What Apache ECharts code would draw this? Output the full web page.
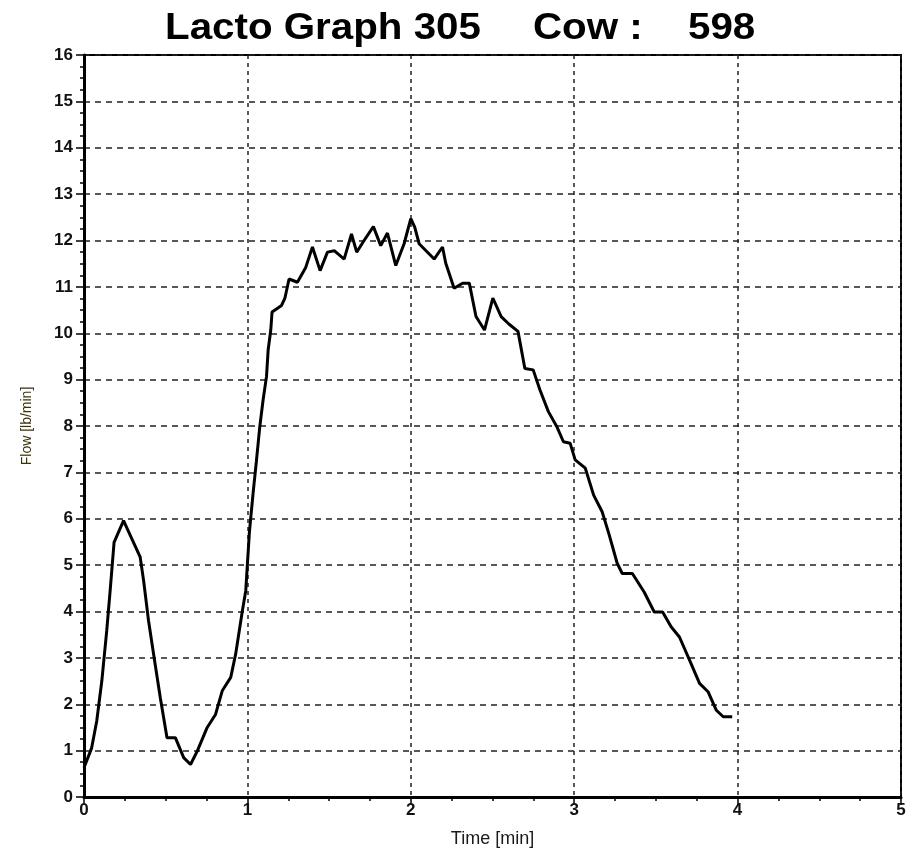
<!DOCTYPE html>
<html>
<head>
<meta charset="utf-8">
<script src="https://cdn.jsdelivr.net/npm/echarts@6/dist/echarts.min.js"></script>
<style>
html,body{margin:0;padding:0;background:#fff;}
#chart{width:911px;height:853px;}
</style>
</head>
<body>
<div id="chart"></div>
<script>
// Data
var timeMin = [0.000,0.047,0.078,0.109,0.139,0.160,0.184,0.242,0.344,0.365,0.395,0.426,0.467,0.508,0.559,0.610,0.652,0.693,0.754,0.805,0.846,0.898,0.928,0.969,0.990,
  1.012,1.035,1.055,1.076,1.096,1.117,1.127,1.143,1.151,1.209,1.229,1.255,1.306,1.357,1.398,1.445,1.490,1.531,1.592,1.637,1.669,1.714,1.771,1.816,1.857,1.908,1.959,
  2.000,2.024,2.051,2.143,2.194,2.214,2.265,2.317,2.358,2.399,2.451,2.502,2.553,2.600,2.656,2.698,2.749,2.790,2.842,2.893,2.934,2.975,
  3.006,3.068,3.119,3.171,3.212,3.263,3.294,3.356,3.428,3.490,3.541,3.593,3.644,3.706,3.767,3.819,3.870,3.912,3.967];
var flowLbMin = [0.63,1.06,1.64,2.50,3.58,4.45,5.49,5.96,5.17,4.66,3.80,3.08,2.14,1.28,1.28,0.85,0.70,0.99,1.50,1.78,2.29,2.58,3.08,4.01,4.45,
  5.70,6.56,7.24,7.99,8.56,9.07,9.64,10.07,10.46,10.60,10.75,11.17,11.10,11.42,11.86,11.35,11.75,11.78,11.60,12.14,11.75,12.00,12.30,11.89,12.16,11.46,11.93,
  12.47,12.29,11.93,11.60,11.86,11.51,10.97,11.08,11.08,10.36,10.07,10.76,10.36,10.20,10.04,9.24,9.21,8.78,8.31,7.99,7.66,7.63,
  7.27,7.09,6.51,6.15,5.68,5.04,4.82,4.82,4.42,3.99,3.99,3.67,3.45,2.95,2.45,2.27,1.87,1.73,1.73];
var titleParts = ['Lacto Graph 305', 'Cow :', '598'];
var xAxisName = 'Time [min]';
var yAxisName = 'Flow [lb/min]';
var xRange = [0, 5];
var yRange = [0, 16];

var seriesData = timeMin.map(function (t, i) { return [t, flowLbMin[i]]; });

var chart = echarts.init(document.getElementById('chart'));
var titleFont = 'bold 36px "Liberation Sans", Arial, sans-serif';
chart.setOption({
  animation: false,
  backgroundColor: '#fff',
  graphic: [
    { type: 'text', x: 165, y: 11, scaleX: 1.12, style: { text: titleParts[0], font: titleFont, fill: '#000' } },
    { type: 'text', x: 533, y: 11, scaleX: 1.12, style: { text: titleParts[1], font: titleFont, fill: '#000' } },
    { type: 'text', x: 688, y: 11, scaleX: 1.12, style: { text: titleParts[2], font: titleFont, fill: '#000' } }
  ],
  grid: {
    left: 84, right: 10, top: 55, bottom: 56,
    show: true, borderColor: '#000', borderWidth: 2, backgroundColor: '#fff'
  },
  xAxis: {
    type: 'value', min: xRange[0], max: xRange[1], interval: 1,
    name: xAxisName, nameLocation: 'middle', nameGap: 33,
    nameTextStyle: { fontFamily: '"Liberation Sans", Arial, sans-serif', fontSize: 18, color: '#1a1a1a' },
    axisLine: { show: true, onZero: false, lineStyle: { color: '#000', width: 3 } },
    axisTick: { show: true, length: 8, lineStyle: { color: '#000', width: 1.5 } },
    minorTick: { show: true, splitNumber: 4, length: 4, lineStyle: { color: '#000', width: 1.5 } },
    axisLabel: { fontFamily: '"Liberation Sans", Arial, sans-serif', fontSize: 17, fontWeight: 'bold', color: '#111', margin: 5 },
    splitLine: { show: true, lineStyle: { color: '#222', width: 1.5, type: [4, 4] } }
  },
  yAxis: {
    type: 'value', min: yRange[0], max: yRange[1], interval: 1,
    name: yAxisName, nameLocation: 'middle', nameGap: 50, nameRotate: 90,
    nameTextStyle: { fontFamily: '"Liberation Sans", Arial, sans-serif', fontSize: 14, color: '#3a3208' },
    axisLine: { show: true, onZero: false, lineStyle: { color: '#000', width: 3 } },
    axisTick: { show: true, length: 8, lineStyle: { color: '#000', width: 1.5 } },
    minorTick: { show: true, splitNumber: 4, length: 4, lineStyle: { color: '#000', width: 1.5 } },
    axisLabel: { fontFamily: '"Liberation Sans", Arial, sans-serif', fontSize: 17, fontWeight: 'bold', color: '#111', margin: 11 },
    splitLine: { show: true, lineStyle: { color: '#222', width: 1.5, type: [6, 5] } }
  },
  series: [{
    type: 'line',
    data: seriesData,
    showSymbol: false,
    symbol: 'none',
    lineStyle: { color: '#000', width: 3 },
    z: 5
  }]
});
</script>
</body>
</html>
